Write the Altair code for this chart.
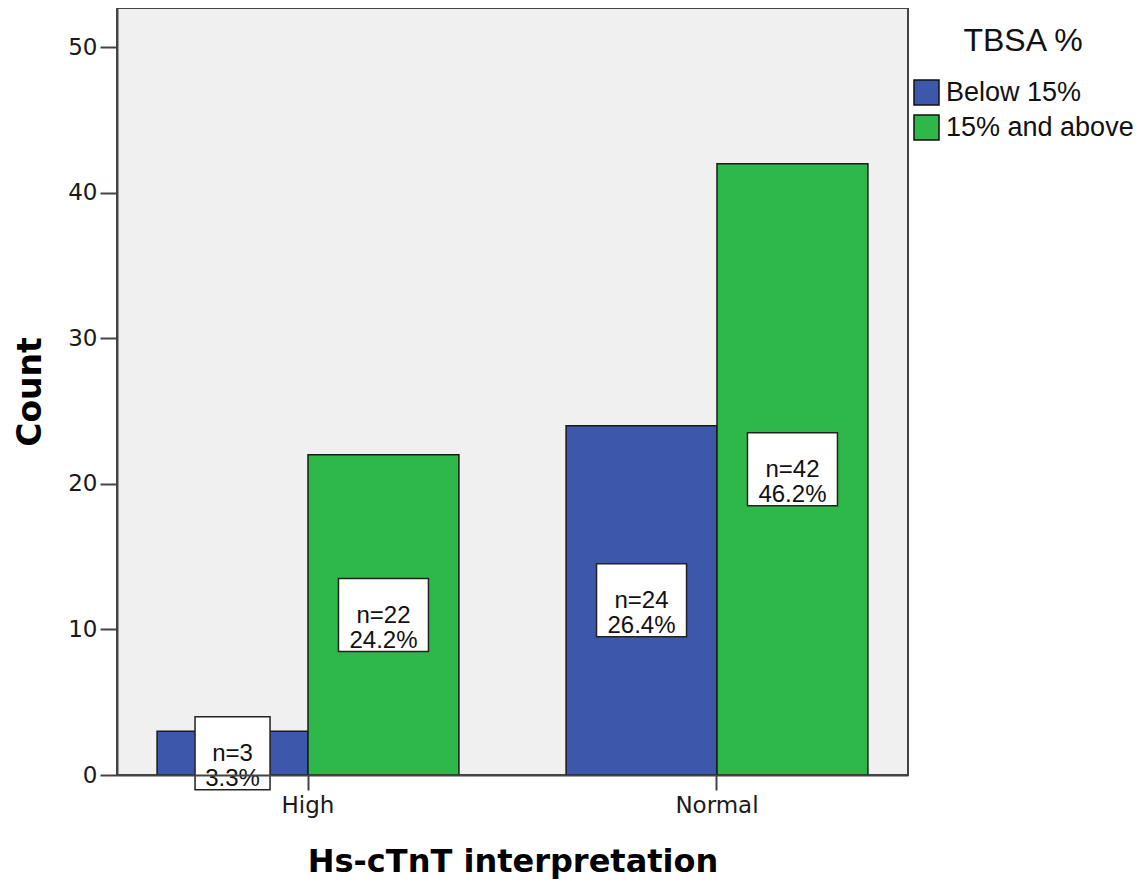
import altair as alt
import pandas as pd

# ---- data ----
categories = ["High", "High", "Normal", "Normal"]
groups = ["Below 15%", "15% and above", "Below 15%", "15% and above"]
counts = [3, 22, 24, 42]
percents = [3.3, 24.2, 26.4, 46.2]

group_order = ["Below 15%", "15% and above"]
cat_order = ["High", "Normal"]
y_ticks = [0, 10, 20, 30, 40, 50]

df = pd.DataFrame({"cat": categories, "grp": groups, "count": counts, "pct": percents})

BLUE = "#3D58AB"
GREEN = "#2EB84A"
FRAME = "#444444"

x_enc = alt.X(
    "cat:N",
    sort=cat_order,
    scale=alt.Scale(paddingInner=0.262, paddingOuter=0.098),
    axis=alt.Axis(
        title="Hs-cTnT interpretation",
        labelAngle=0,
        labelFont="DejaVu Sans",
        labelFontSize=23,
        labelColor="#1a1a1a",
        labelPadding=4,
        tickSize=15,
        tickWidth=2,
        tickColor=FRAME,
        domainColor=FRAME,
        domainWidth=2,
        titleFont="DejaVu Sans",
        titleFontWeight="bold",
        titleFontSize=32,
        titleColor="#000000",
        titleBaseline="alphabetic",
        titleY=96,
        zindex=1,
    ),
)
xoff = alt.XOffset(
    "grp:N",
    sort=group_order,
    scale=alt.Scale(domain=group_order, paddingInner=0, paddingOuter=0),
)

y_axis = alt.Axis(
    title="Count",
    values=y_ticks,
    grid=False,
    labelFont="DejaVu Sans",
    labelFontSize=23,
    labelColor="#1a1a1a",
    labelPadding=3,
    tickSize=17,
    tickWidth=2,
    tickColor=FRAME,
    domainColor=FRAME,
    domainWidth=2,
    titleFont="DejaVu Sans",
    titleFontWeight="bold",
    titleFontSize=33,
    titleColor="#000000",
    titleAngle=270,
    titleBaseline="alphabetic",
    titleAlign="center",
    titleX=-77,
    titleY=383.5,
    zindex=1,
)
y_scale = alt.Scale(domain=[0, 52.7], nice=False)

base = alt.Chart(df)

bars = base.mark_bar(stroke="#1a1a1a", strokeWidth=1.5).encode(
    x=x_enc,
    xOffset=xoff,
    y=alt.Y("count:Q", scale=y_scale, axis=y_axis),
    color=alt.Color(
        "grp:N",
        sort=group_order,
        scale=alt.Scale(domain=group_order, range=[BLUE, GREEN]),
        legend=alt.Legend(
            title="TBSA %",
            orient="none",
            legendX=796,
            legendY=18,
            padding=0,
            titleFont="Liberation Sans",
            titleFontSize=32,
            titleFontWeight="normal",
            titleColor="#111111",
            titleAnchor="middle",
            titleAlign="center",
            titlePadding=21,
            labelFont="Liberation Sans",
            labelFontSize=27,
            labelColor="#111111",
            labelOffset=6,
            labelLimit=400,
            rowPadding=4,
            symbolType="square",
            symbolSize=625,
            symbolStrokeColor="#111111",
            symbolStrokeWidth=1.5,
        ),
    ),
)

labelled = base.transform_calculate(
    mid="datum.count / 2",
    label="'n=' + datum.count + '\\n' + format(datum.pct, '.1f') + '%'",
)

box_wide = labelled.transform_filter("datum.count >= 10").mark_point(
    shape="M-1,-0.811L1,-0.811L1,0.811L-1,0.811Z",
    size=8100,
    filled=True,
    fill="white",
    stroke="#222222",
    strokeWidth=1.5,
    opacity=1,
).encode(x=x_enc, xOffset=xoff, y=alt.Y("mid:Q", scale=y_scale, axis=y_axis))

box_narrow = labelled.transform_filter("datum.count < 10").mark_point(
    shape="M-1,-0.973L1,-0.973L1,0.973L-1,0.973Z",
    size=5625,
    filled=True,
    fill="white",
    stroke="#222222",
    strokeWidth=1.5,
    opacity=1,
).encode(x=x_enc, xOffset=xoff, y=alt.Y("mid:Q", scale=y_scale, axis=y_axis))

texts = labelled.mark_text(
    font="Liberation Sans",
    fontSize=24,
    lineHeight=25,
    lineBreak="\n",
    baseline="middle",
    align="center",
    color="#111111",
    dy=1,
).encode(x=x_enc, xOffset=xoff, y=alt.Y("mid:Q", scale=y_scale, axis=y_axis), text="label:N")

chart = (
    alt.layer(bars, box_wide, box_narrow, texts)
    .properties(
        width=791,
        height=767,
        autosize=alt.AutoSizeParams(type="none"),
        padding={"left": 109, "top": 0, "right": 225, "bottom": 106},
        background="white",
    )
    .configure_view(fill="#F0F0F0", stroke=FRAME, strokeWidth=2)
)

chart.save("out.html", embed_options={"renderer": "svg", "actions": False})
